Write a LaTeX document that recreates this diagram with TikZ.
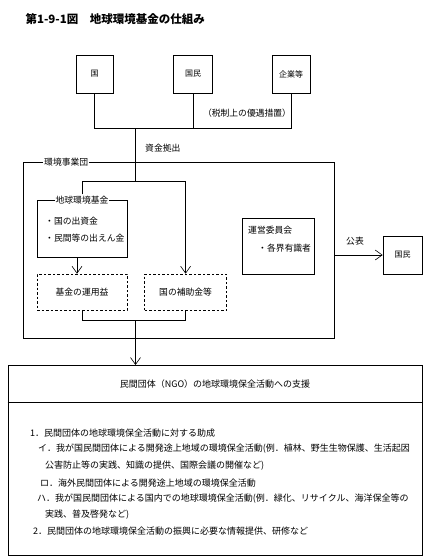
\documentclass[tikz,border=0pt]{standalone}
\usepackage{fontspec}
\setmainfont{Noto Sans CJK JP}
\usetikzlibrary{arrows.meta,positioning}

\begin{document}
\begin{tikzpicture}[
    x=1pt,y=-1pt,
    font=\fontsize{8.8}{10.5}\selectfont,
    ln/.style={line width=0.6pt},
    box/.style={draw,ln,minimum width=37pt,minimum height=38pt,inner sep=0pt,
                font=\fontsize{8}{10}\selectfont},
    frame/.style={draw,ln,inner sep=0pt},
    dbox/.style={draw,ln,dash pattern=on 2.5pt off 2pt,minimum width=90pt,
                 minimum height=36pt,inner sep=0pt},
    tag/.style={fill=white,inner sep=1pt},
    txt/.style={anchor=west,inner sep=0pt},
    item/.style={txt,font=\fontsize{9}{11}\selectfont},
    arr/.style={ln,-{Straight Barb[length=7pt,width=10pt]}},
    node distance=60pt
  ]
    \useasboundingbox (0,0) rectangle (430,557);
    \node[anchor=west,font=\fontsize{11.5}{13}\selectfont\bfseries] (title) at (22,19)
      {第1-9-1図　地球環境基金の仕組み};

    \node[box] (kuni) at (94.5,74) {国};
    \node[box,right=of kuni,minimum width=39pt] (kokumin) {国民};
    \node[box,right=59pt of kokumin,minimum width=38pt] (kigyo) {企業等};
    \path (kigyo.south) ++(0,35) coordinate (bar);
    \draw[ln] (kuni.south) |- (bar) -- (kigyo.south);
    \draw[ln] (kokumin.south) -- (kokumin.south |- bar);
    \node (zei) at (247,113) {（税制上の優遇措置）};

    \coordinate (top) at (135.5,128);
    \coordinate (split) at (135.5,181);
    \draw[ln] (top) -- (split);
    \node[txt] (kyoshutsu) at (145,148) {資金拠出};

    \node[frame,minimum width=311pt,minimum height=176pt] (jigyodan) at (178.5,250) {};
    \node[tag,anchor=west] (jigyodanlabel) at (43,162) {環境事業団};

    \node[frame,minimum width=90pt,minimum height=57pt] (fund) at (82,228.5) {};
    \node[tag] (fundlabel) at (fund.north) {地球環境基金};
    \node[txt] (shusshi) at (45,221) {・国の出資金};
    \node[txt] (shutsuen) at (45,238) {・民間等の出えん金};

    \node[dbox] (yield) at (82,292) {基金の運用益};
    \node[dbox,right=17pt of yield,minimum width=82pt] (subsidy) {国の補助金等};
    \draw[ln] (fundlabel.north) |- (split);
    \draw[arr] (split) -| (subsidy.north);
    \draw[arr] ([xshift=-5pt]fund.south) -- ([xshift=-5pt]yield.north);

    \node[frame,minimum width=72pt,minimum height=56pt] (unei) at (278,246) {};
    \node[txt] (uneilabel) at (248,230) {運営委員会};
    \node[txt] (yushiki) at (258,248) {・各界有識者};

    \node[box,minimum width=39pt] (public) at (402.5,255) {国民};
    \draw[arr] (jigyodan.east |- public) -- (public.west);
    \node (kohyo) at (355,241) {公表};

    \node[frame,anchor=north,minimum width=414pt,minimum height=190pt] (ngo) at (215,365) {};
    \draw[ln] ([yshift=-37pt]ngo.north west) -- ([yshift=-37pt]ngo.north east);
    \node[font=\fontsize{9}{11}\selectfont] (ngohead) at (215,384)
      {民間団体（NGO）の地球環境保全活動への支援};

    \draw[ln] (yield.south) -- ++(0,10) coordinate (join) -| (subsidy.south);
    \draw[arr] (join -| top) -- (ngo.north -| top);

    \node[item] (item1) at (30,433) {1．民間団体の地球環境保全活動に対する助成};
    \node[item] (itemi) at (38,449) {イ．我が国民間団体による開発途上地域の環境保全活動(例．植林、野生生物保護、生活起因};
    \node[item] (itemi2) at (45,466) {公害防止等の実践、知識の提供、国際会議の開催など)};
    \node[item] (itemro) at (40,483) {ロ．海外民間団体による開発途上地域の環境保全活動};
    \node[item] (itemha) at (37,499) {ハ．我が国民間団体による国内での地球環境保全活動(例．緑化、リサイクル、海洋保全等の};
    \node[item] (itemha2) at (45,515) {実践、普及啓発など)};
    \node[item] (item2) at (33,531) {2．民間団体の地球環境保全活動の振興に必要な情報提供、研修など};
\end{tikzpicture}
\end{document}
